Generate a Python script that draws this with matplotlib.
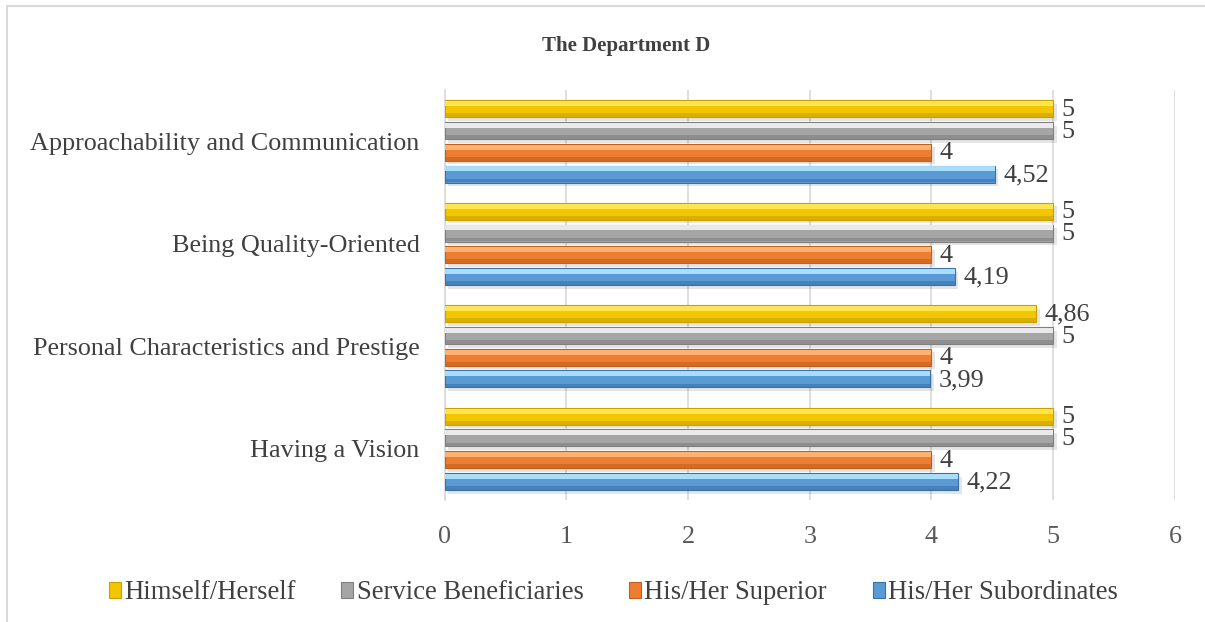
import matplotlib
matplotlib.use('agg')
from matplotlib import pyplot as plt
from matplotlib.patches import Patch, Rectangle
import numpy as np

plt.rcParams['font.family'] = ['Liberation Serif', 'DejaVu Serif']

categories = ["Approachability and Communication", "Being Quality-Oriented",
              "Personal Characteristics and Prestige", "Having a Vision"]
series_names = ["Himself/Herself", "Service Beneficiaries", "His/Her Superior", "His/Her Subordinates"]
himself = [5, 5, 4.86, 5]
beneficiaries = [5, 5, 5, 5]
superior = [4, 4, 4, 4]
subordinates = [4.52, 4.19, 3.99, 4.22]
x_ticks = [0, 1, 2, 3, 4, 5, 6]

# base, light, dark for the bevel look
colors = [
    ("#F2C600", "#FFE95A", "#C9A000"),
    ("#A5A5A5", "#F2F2F2", "#7F7F7F"),
    ("#ED7D31", "#FFB87A", "#C0601E"),
    ("#5B9BD5", "#B2E6FF", "#3A70A8"),
]
all_values = [himself, beneficiaries, superior, subordinates]

fig = plt.figure(figsize=(12.05, 6.22), dpi=100)
ax = fig.add_axes([0.369, 0.196, 0.606, 0.659])

ypos = np.arange(len(categories))[::-1]
step = 0.212
h = 0.166
offsets = [1.5 * step, 0.5 * step, -0.5 * step, -1.5 * step]

for vals, (base, light, dark), off in zip(all_values, colors, offsets):
    y = ypos + off
    # shadow
    ax.barh(y - 0.035, vals, height=h, left=0.03, color='black', alpha=0.10, zorder=2, linewidth=0)
    ax.barh(y, vals, height=h, color=base, edgecolor=dark, linewidth=0.8, zorder=3)
    ax.barh(y + h * 0.30, vals, height=h * 0.30, color=light, linewidth=0, zorder=4, alpha=0.9)
    ax.barh(y - h * 0.38, vals, height=h * 0.22, color=dark, linewidth=0, zorder=4, alpha=0.6)
    for yy, v in zip(y, vals):
        txt = f"{v:g}".replace('.', ',')
        ax.text(v + 0.07, yy - 0.01, txt, va='center', ha='left', fontsize=18.8,
                color='#404040', zorder=5)

ax.set_xlim(0, 6)
ax.set_ylim(-0.5, 3.5)
ax.set_xticks(x_ticks)
ax.set_xticklabels([str(t) for t in x_ticks], fontsize=18.8, color='#595959')
ax.set_yticks(ypos)
ax.set_yticklabels(categories, fontsize=18.8, color='#404040')
ax.tick_params(axis='both', length=0)
ax.tick_params(axis='x', pad=19)
ax.tick_params(axis='y', pad=18)
ax.grid(axis='x', color='#D9D9D9', linewidth=1.2, zorder=0)
ax.set_axisbelow(True)
for side in ['top', 'right', 'bottom']:
    ax.spines[side].set_visible(False)
ax.spines['left'].set_color('#D9D9D9')
ax.spines['left'].set_linewidth(1.2)

fig.text(0.52, 0.926, "The Department D", ha='center', va='center', fontsize=15,
         fontweight='bold', color='#404040')

handles = [Patch(facecolor=c[0], edgecolor=c[2], linewidth=0.8) for c in colors]
leg = fig.legend(handles, series_names, loc='center', bbox_to_anchor=(0.509, 0.047), ncol=4,
                 frameon=False, fontsize=19.2, handlelength=0.45, handleheight=0.55,
                 handletextpad=0.12, columnspacing=1.72)
for t in leg.get_texts():
    t.set_color('#404040')

# chart border (only the top and left edges are visible in the crop)
fig.add_artist(Rectangle((7 / 1205, -0.1), 1.2, 0.1 + (1 - 6 / 622), transform=fig.transFigure,
                         fill=False, edgecolor='#D9D9D9', linewidth=1.5))

fig.savefig("out.png", dpi=100)
